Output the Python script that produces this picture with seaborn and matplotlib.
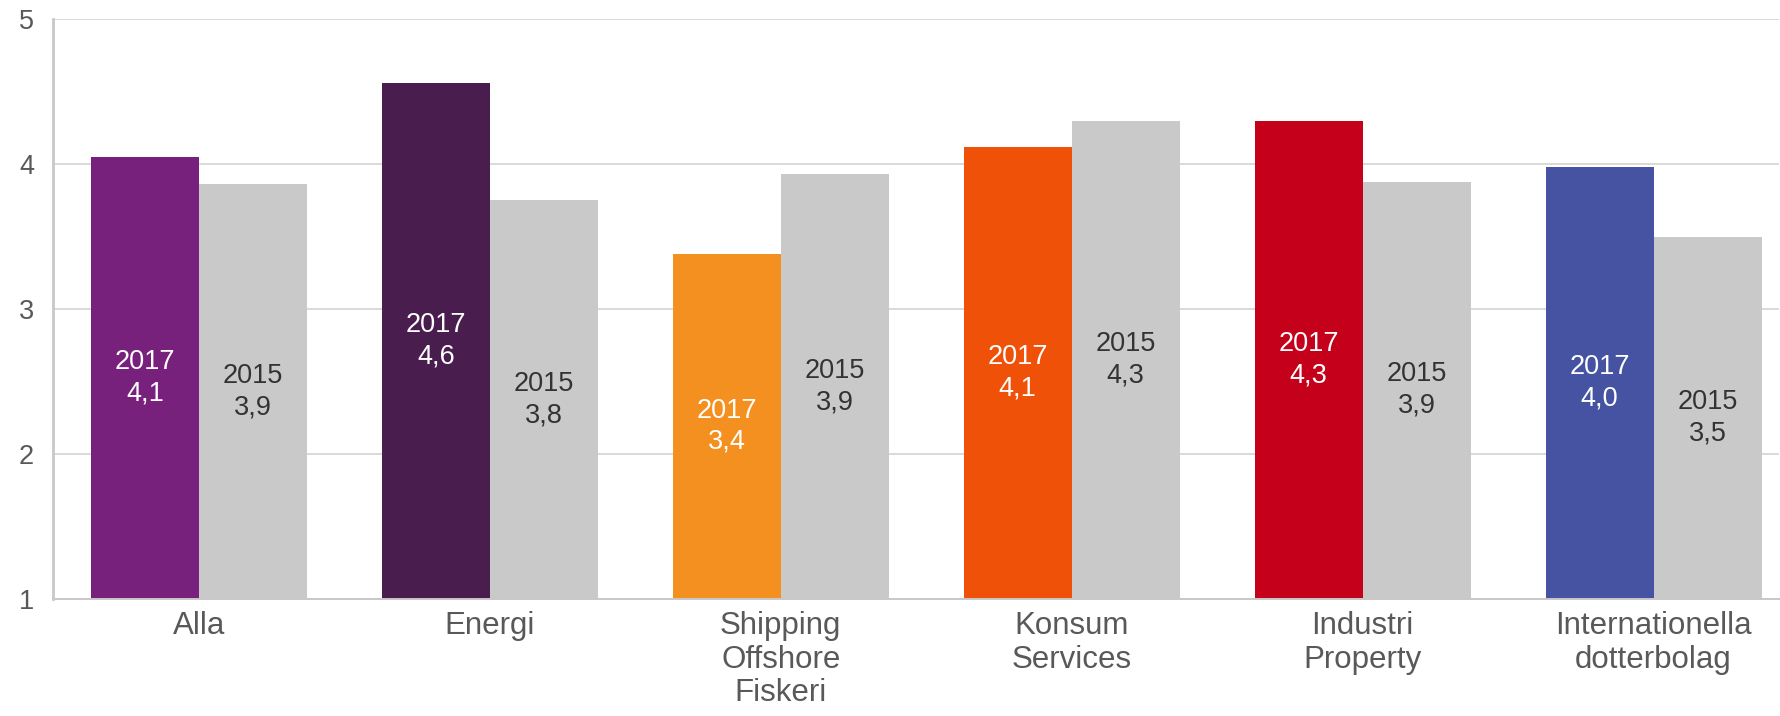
import matplotlib
matplotlib.use("Agg")
import matplotlib.pyplot as plt
import seaborn as sns
import pandas as pd

categories = ["Alla", "Energi", "Shipping\nOffshore\nFiskeri", "Konsum\nServices",
              "Industri\nProperty", "Internationella\ndotterbolag"]
values_2017 = [4.05, 4.56, 3.38, 4.12, 4.30, 3.98]
values_2015 = [3.86, 3.75, 3.93, 4.30, 3.88, 3.50]
labels_2017 = ["4,1", "4,6", "3,4", "4,1", "4,3", "4,0"]
labels_2015 = ["3,9", "3,8", "3,9", "4,3", "3,9", "3,5"]
years = ["2017", "2015"]
colors_2017 = ["#78217C", "#4A1D4F", "#F4901F", "#EF5108", "#C4001A", "#4653A3"]
color_2015 = "#C9C9C9"

df = pd.DataFrame({
    "kategori": categories * 2,
    "år": [years[0]] * len(categories) + [years[1]] * len(categories),
    "värde": values_2017 + values_2015,
})

sns.set_theme(style="white")
plt.rcParams["font.family"] = ["Liberation Sans", "DejaVu Sans"]

fig = plt.figure(figsize=(17.81, 7.16), dpi=100)
ax = fig.add_axes([0.030, 0.164, 0.9687, 0.809])

sns.barplot(data=df, x="kategori", y="värde", hue="år", order=categories,
            hue_order=years, palette=[colors_2017[0], color_2015],
            width=0.742, saturation=1, linewidth=0, ax=ax, legend=False)

bars17 = ax.containers[0]
bars15 = ax.containers[1]
for bar, c in zip(bars17, colors_2017):
    bar.set_facecolor(c)
for bar in bars15:
    bar.set_facecolor(color_2015)

ymin = 1
for bars, year, labs, tc in [(bars17, years[0], labels_2017, "white"),
                             (bars15, years[1], labels_2015, "#333333")]:
    for bar, lab in zip(bars, labs):
        xc = bar.get_x() + bar.get_width() / 2
        yc = (ymin + bar.get_height()) / 2
        ax.text(xc, yc, f"{year}\n{lab}", ha="center", va="center",
                color=tc, fontsize=19.5, linespacing=1.27)

ax.set_ylim(1, 5)
ax.set_xlim(-0.5, 5.43)
ax.set_yticks([1, 2, 3, 4, 5])
ax.set_xlabel("")
ax.set_ylabel("")
ax.yaxis.grid(True, color="#D9D9D9", linewidth=1.4)
ax.set_axisbelow(True)
for s in ["top", "right"]:
    ax.spines[s].set_visible(False)
ax.spines["left"].set_color("#C8C8C8")
ax.spines["left"].set_linewidth(2)
ax.spines["bottom"].set_color("#C8C8C8")
ax.spines["bottom"].set_linewidth(1.4)
ax.tick_params(axis="y", length=0, pad=14, labelsize=19.5, labelcolor="#595959")
ax.tick_params(axis="x", length=0, pad=9, labelsize=22.5, labelcolor="#595959")
for t in ax.get_xticklabels():
    t.set_linespacing(1.15)

fig.savefig("out.png", dpi=100)
